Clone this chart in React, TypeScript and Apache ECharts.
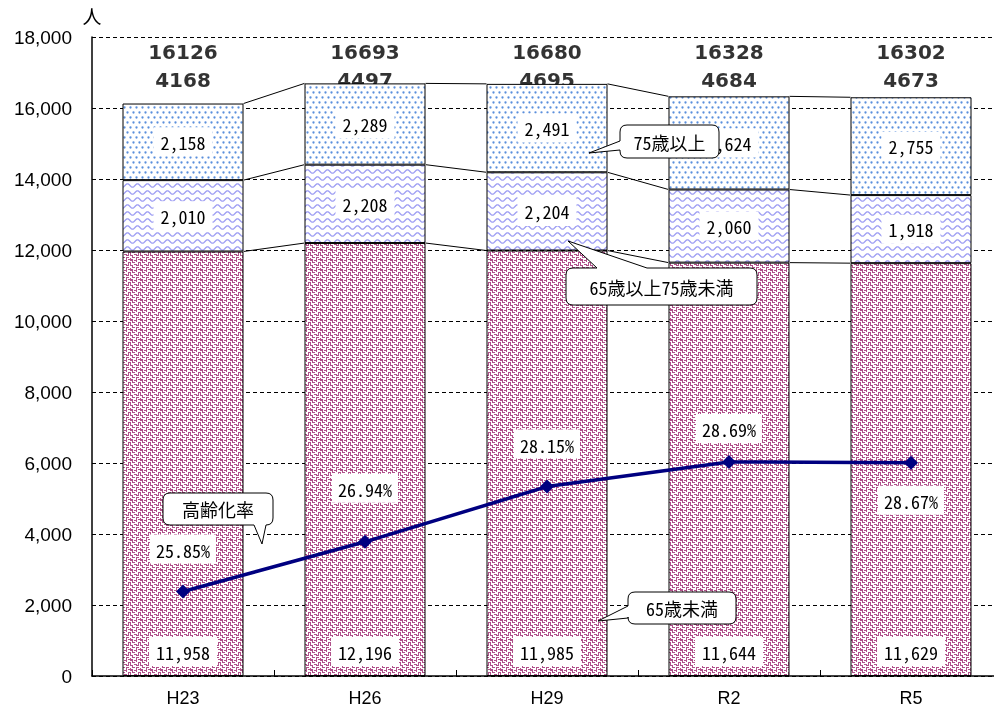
import React, { useEffect, useRef } from 'react';
import * as echarts from 'echarts';

// 年度
const categories = ['H23', 'H26', 'H29', 'R2', 'R5'];
// 65歳未満
const under65 = [11958, 12196, 11985, 11644, 11629];
// 65歳以上75歳未満
const age65to74 = [2010, 2208, 2204, 2060, 1918];
// 75歳以上
const age75plus = [2158, 2289, 2491, 2624, 2755];
// 高齢化率 (%)
const agingRate = [25.85, 26.94, 28.15, 28.69, 28.67];

const popMin = 0;
const popMax = 18000;
const popInterval = 2000;
const rateMin = 24;
const rateMax = 38;

const MONO = '"Noto Sans Mono CJK JP", "Noto Sans CJK JP", "DejaVu Sans Mono", monospace';
const SANS = '"Liberation Sans", Arial, sans-serif';

function makeTile(w: number, h: number, draw: (ctx: CanvasRenderingContext2D) => void) {
  const c = document.createElement('canvas');
  c.width = w;
  c.height = h;
  const ctx = c.getContext('2d')!;
  ctx.fillStyle = '#ffffff';
  ctx.fillRect(0, 0, w, h);
  draw(ctx);
  return { image: c.toDataURL(), repeat: 'repeat', imageWidth: w, imageHeight: h } as any;
}

// staggered blue dots
function dotPattern() {
  return makeTile(6, 10, (ctx) => {
    ctx.fillStyle = '#5a8fdc';
    [[1.5, 2.5], [4.5, 7.5]].forEach(([x, y]) => {
      ctx.beginPath();
      ctx.arc(x, y, 1.15, 0, Math.PI * 2);
      ctx.fill();
    });
  });
}

// lavender wavy lines
function wavePattern() {
  return makeTile(10, 7, (ctx) => {
    ctx.strokeStyle = '#9d9df3';
    ctx.lineWidth = 1.3;
    ctx.beginPath();
    for (let x = -1; x <= 11; x += 0.5) {
      const y = 3.5 + 1.7 * Math.sin((2 * Math.PI * x) / 10);
      if (x === -1) ctx.moveTo(x, y);
      else ctx.lineTo(x, y);
    }
    ctx.stroke();
  });
}

// maroon stepped fret
function fretPattern() {
  const bmp = [
    '1110111000',
    '0010001000',
    '1011100011',
    '1000000010',
    '1000111010',
    '1110001110',
    '0010000000',
    '0011101110',
    '1000001000',
    '1110001011',
  ];
  return makeTile(10, 10, (ctx) => {
    ctx.fillStyle = '#b0508a';
    bmp.forEach((r, y) => {
      for (let x = 0; x < r.length; x++) if (r[x] === '1') ctx.fillRect(x, y, 1, 1);
    });
  });
}

const Callout = echarts.graphic.extendShape({
  type: 'callout',
  shape: { x: 0, y: 0, width: 0, height: 0, r: 7, side: 'left', b1: 0, b2: 0, tx: 0, ty: 0 },
  buildPath(ctx: any, s: any) {
    const { x, y, width: w, height: h, r } = s;
    ctx.moveTo(x + r, y);
    if (s.side === 'top') {
      ctx.lineTo(s.b1, y);
      ctx.lineTo(s.tx, s.ty);
      ctx.lineTo(s.b2, y);
    }
    ctx.lineTo(x + w - r, y);
    ctx.quadraticCurveTo(x + w, y, x + w, y + r);
    ctx.lineTo(x + w, y + h - r);
    ctx.quadraticCurveTo(x + w, y + h, x + w - r, y + h);
    if (s.side === 'bottom') {
      ctx.lineTo(s.b2, y + h);
      ctx.lineTo(s.tx, s.ty);
      ctx.lineTo(s.b1, y + h);
    }
    ctx.lineTo(x + r, y + h);
    ctx.quadraticCurveTo(x, y + h, x, y + h - r);
    if (s.side === 'left') {
      ctx.lineTo(x, s.b2);
      ctx.lineTo(s.tx, s.ty);
      ctx.lineTo(x, s.b1);
    }
    ctx.lineTo(x, y + r);
    ctx.quadraticCurveTo(x, y, x + r, y);
    ctx.closePath();
  },
});
echarts.graphic.registerShape('callout', Callout);

function callout(text: string, shape: any) {
  return {
    type: 'group',
    z: 100,
    children: [
      { type: 'callout', z: 100, shape, style: { fill: '#ffffff', stroke: '#000000', lineWidth: 1 } },
      {
        type: 'text',
        z: 101,
        x: shape.x + shape.width / 2,
        y: shape.y + shape.height / 2,
        style: {
          text,
          fill: '#000',
          fontSize: 18,
          fontFamily: MONO,
          align: 'center',
          verticalAlign: 'middle',
        },
      },
    ],
  };
}

const fmt = (v: number) => v.toLocaleString('en-US');

export default function App() {
  const ref = useRef<HTMLDivElement>(null);

  useEffect(() => {
    if (!ref.current) return;
    const chart = echarts.init(ref.current, undefined, { renderer: 'svg' });

    const level1 = under65.slice();
    const level2 = under65.map((v, i) => v + age65to74[i]);
    const level3 = level2.map((v, i) => v + age75plus[i]);
    const elderly = age65to74.map((v, i) => v + age75plus[i]);

    const barWidth = 121;
    const valueLabel = {
      show: true,
      formatter: (p: any) => fmt(p.value),
      backgroundColor: '#ffffff',
      padding: [6, 7, 5, 7],
      color: '#000',
      fontSize: 18,
      fontFamily: MONO,
    };

    const connectorData = categories.slice(0, -1).map((_, i) => [
      i,
      level1[i],
      level2[i],
      level3[i],
      level1[i + 1],
      level2[i + 1],
      level3[i + 1],
    ]);

    // label placement for the rate line (position, distance)
    const ratePlacement: [string, number][] = [
      ['top', 21],
      ['top', 32],
      ['top', 21],
      ['top', 12],
      ['bottom', 16],
    ];
    const totalLabelLevel = 17180;

    const option: any = {
      animation: false,
      grid: { left: 92, width: 910, top: 37, bottom: 36, containLabel: false, outerBoundsMode: 'none' },
      xAxis: {
        type: 'category',
        data: categories,
        axisLine: { lineStyle: { color: '#000', width: 1.5 } },
        axisTick: { show: true, inside: true, length: 6, lineStyle: { color: '#000' } },
        axisLabel: { color: '#000', fontSize: 18, fontFamily: SANS, margin: 13 },
      },
      yAxis: [
        {
          type: 'value',
          min: popMin,
          max: popMax,
          interval: popInterval,
          name: '人',
          nameLocation: 'end',
          nameGap: 12,
          nameTextStyle: { color: '#000', fontSize: 19, fontFamily: '"Noto Sans CJK JP"', align: 'center', verticalAlign: 'bottom' },
          axisLine: { show: true, lineStyle: { color: '#000', width: 1.5 } },
          axisTick: { show: false },
          axisLabel: { color: '#000', fontSize: 19, fontFamily: SANS, margin: 20, formatter: (v: number) => fmt(v) },
          splitLine: { show: true, lineStyle: { color: '#000', width: 1, type: [4, 3] } },
        },
        { type: 'value', min: rateMin, max: rateMax, show: false, splitLine: { show: false } },
      ],
      series: [
        {
          name: '65歳未満',
          type: 'bar',
          stack: 'pop',
          barWidth,
          data: under65,
          itemStyle: { color: fretPattern(), borderColor: '#000', borderWidth: 1 },
          label: { ...valueLabel, position: 'insideBottom', distance: 10 },
        },
        {
          name: '65歳以上75歳未満',
          type: 'bar',
          stack: 'pop',
          barWidth,
          data: age65to74,
          itemStyle: { color: wavePattern(), borderColor: '#000', borderWidth: 1 },
          label: { ...valueLabel, position: 'inside' },
        },
        {
          name: '75歳以上',
          type: 'bar',
          stack: 'pop',
          barWidth,
          data: age75plus,
          itemStyle: { color: dotPattern(), borderColor: '#000', borderWidth: 1 },
          label: { ...valueLabel, position: 'inside' },
        },
        {
          name: '合計',
          type: 'scatter',
          symbolSize: 1,
          itemStyle: { color: 'transparent' },
          data: level3.map(() => totalLabelLevel),
          z: 1,
          label: {
            show: true,
            position: 'inside',
            formatter: (p: any) => `${level3[p.dataIndex]}\n${elderly[p.dataIndex]}`,
            color: '#000',
            fontSize: 20,
            fontWeight: 'bold',
            fontFamily: '"DejaVu Sans", sans-serif',
            lineHeight: 28,
          },
        },
        {
          name: '接続線',
          type: 'custom',
          data: connectorData,
          encode: { x: 0, y: [1, 2, 3, 4, 5, 6] },
          silent: true,
          renderItem: (_params: any, api: any) => {
            const i = api.value(0);
            const half = barWidth / 2;
            const children: any[] = [];
            for (let k = 0; k < 3; k++) {
              const p1 = api.coord([i, api.value(1 + k)]);
              const p2 = api.coord([i + 1, api.value(4 + k)]);
              children.push({
                type: 'line',
                shape: { x1: p1[0] + half, y1: p1[1], x2: p2[0] - half, y2: p2[1] },
                style: { stroke: '#000', lineWidth: 1 },
              });
            }
            return { type: 'group', children };
          },
        },
        {
          name: '高齢化率',
          type: 'line',
          yAxisIndex: 1,
          z: 5,
          symbol: 'diamond',
          symbolSize: 14,
          lineStyle: { color: '#000080', width: 3.5 },
          itemStyle: { color: '#000080' },
          data: agingRate.map((v, i) => ({
            value: v,
            label: { position: ratePlacement[i][0], distance: ratePlacement[i][1] },
          })),
          label: {
            show: true,
            formatter: (p: any) => `${p.value.toFixed(2)}%`,
            backgroundColor: '#ffffff',
            padding: [6, 6, 5, 6],
            color: '#000',
            fontSize: 18,
            fontFamily: MONO,
          },
        },
      ],
      graphic: [
        callout('75歳以上', { x: 620, y: 125, width: 99, height: 33, r: 7, side: 'left', b1: 141, b2: 150, tx: 589, ty: 153 }),
        callout('65歳以上75歳未満', { x: 566, y: 268, width: 191, height: 37, r: 7, side: 'top', b1: 597, b2: 647, tx: 568, ty: 241 }),
        callout('高齢化率', { x: 163, y: 493, width: 110, height: 32, r: 7, side: 'bottom', b1: 254, b2: 266, tx: 262, ty: 544 }),
        callout('65歳未満', { x: 628, y: 592, width: 108, height: 32, r: 7, side: 'left', b1: 606, b2: 618, tx: 598, ty: 621 }),
      ],
    };

    chart.setOption(option);
    return () => chart.dispose();
  }, []);

  return <div ref={ref} style={{ position: 'fixed', left: 0, top: 0, width: 994, height: 712 }} />;
}
